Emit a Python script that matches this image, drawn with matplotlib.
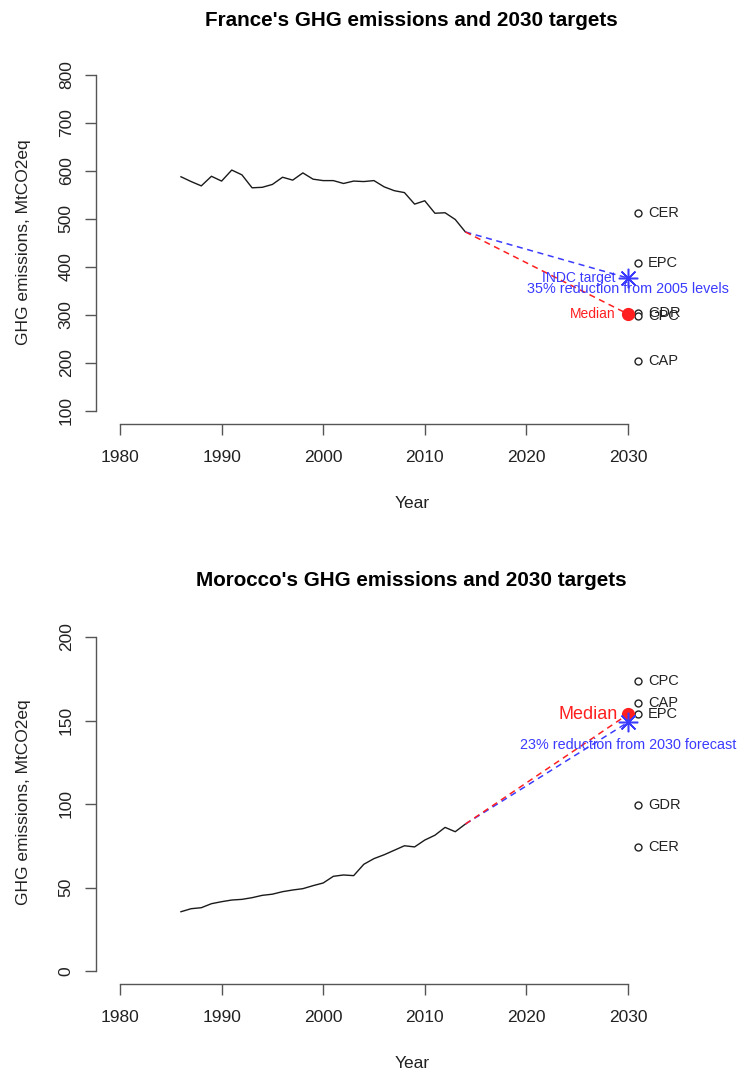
import matplotlib
matplotlib.use("Agg")
import matplotlib.pyplot as plt

plt.rcParams['font.family'] = ['Liberation Sans', 'DejaVu Sans']

years = list(range(1986, 2015))

france_emissions = [588, 578, 569, 589, 579, 602, 592, 565, 566, 572,
                    587, 581, 596, 583, 580, 580, 574, 579, 578, 580,
                    567, 559, 555, 531, 538, 512, 513, 499, 473]
morocco_emissions = [35.5, 37.3, 37.9, 40.3, 41.5, 42.5, 42.9, 43.9, 45.3, 46.0,
                     47.5, 48.5, 49.3, 51.1, 52.7, 56.7, 57.5, 57.1, 63.9, 67.3,
                     69.6, 72.3, 75.0, 74.3, 78.4, 81.3, 86.0, 83.4, 88.0]

scenario_names = ["CER", "EPC", "GDR", "CPC", "CAP"]
france_scenarios = [512, 408, 304, 298, 204]
morocco_scenarios = [74.4, 153.7, 99.6, 173.8, 160.7]

target_year = 2030
france_median = 302
france_indc = 377
morocco_median = 153.7
morocco_indc = 148.9

france_yticks = [100, 200, 300, 400, 500, 600, 700, 800]
morocco_yticks = [0, 50, 100, 150, 200]
xticks = [1980, 1990, 2000, 2010, 2020, 2030]

BLUE = '#3b3bff'
RED = '#ff1f1f'

W, H = 738, 1072
fig = plt.figure(figsize=(W / 100, H / 100), dpi=100)


def px_axes(left, top, right, bottom):
    return fig.add_axes([left / W, 1 - bottom / H, (right - left) / W, (bottom - top) / H])


def style(ax, yticks, xlim, ylim):
    ax.set_xlim(*xlim)
    ax.set_ylim(*ylim)
    for s in ('top', 'right'):
        ax.spines[s].set_visible(False)
    ax.spines['left'].set_bounds(yticks[0], yticks[-1])
    ax.spines['bottom'].set_bounds(xticks[0], xticks[-1])
    for s in ('left', 'bottom'):
        ax.spines[s].set_color('#555555')
        ax.spines[s].set_linewidth(1.0)
    ax.set_xticks(xticks)
    ax.set_yticks(yticks)
    ax.tick_params(axis='both', length=8, width=1.0, color='#555555', labelsize=12.5,
                   labelcolor='#222222')
    ax.tick_params(axis='x', pad=11)
    ax.tick_params(axis='y', pad=8)
    for lab in ax.get_yticklabels():
        lab.set_rotation(90)
        lab.set_va('center')
    ax.set_xlabel("Year", fontsize=12.5, labelpad=22, color='#222222')
    ax.set_ylabel("GHG emissions, MtCO2eq", fontsize=12.5, labelpad=20, color='#222222')


def draw(ax, emissions, scenarios, median, indc):
    ax.plot(years, emissions, color='#1a1a1a', lw=1.0)
    ax.plot([years[-1], target_year], [emissions[-1], indc], ls=(0, (4, 3)), color=BLUE, lw=1.1)
    ax.plot([years[-1], target_year], [emissions[-1], median], ls=(0, (4, 3)), color=RED, lw=1.1)
    ax.plot([target_year + 1] * len(scenarios), scenarios, ls='none', marker='o', ms=5,
            mfc='white', mec='#222222', mew=1.0, clip_on=False, zorder=3)
    for name, v in zip(scenario_names, scenarios):
        ax.annotate(name, (target_year + 1, v), xytext=(7, 0), textcoords='offset points',
                    va='center', ha='left', fontsize=10.5, color='#222222', annotation_clip=False)
    ax.plot([target_year], [median], ls='none', marker='o', ms=8.5, color=RED, zorder=4,
            clip_on=False)
    ax.plot([target_year], [indc], ls='none', marker=(8, 2, 0), ms=14, mew=1.1, color=BLUE,
            zorder=4, clip_on=False)


# France
ax1 = px_axes(96, 60, 729, 424)
ylim1 = (100 - 13 / 0.48, 800 + 15 / 0.48)
style(ax1, france_yticks, (1980 - 24 / 10.15, 2030 + 101 / 10.15), ylim1)
draw(ax1, france_emissions, france_scenarios, france_median, france_indc)
ax1.annotate("Median", (target_year, france_median), xytext=(-9, 0), textcoords='offset points',
             ha='right', va='center', fontsize=10, color=RED)
ax1.annotate("INDC target", (target_year, france_indc), xytext=(-9, 0), textcoords='offset points',
             ha='right', va='center', fontsize=10, color=BLUE)
ax1.annotate("35% reduction from 2005 levels", (target_year, france_indc), xytext=(0, -8),
             textcoords='offset points', ha='center', va='center', fontsize=10.4, color=BLUE,
             annotation_clip=False)
fig.text(411 / W, 1 - 20 / H, "France's GHG emissions and 2030 targets", ha='center',
         va='center', fontsize=14.9, fontweight='bold')

# Morocco
ax2 = px_axes(96, 620, 729, 984)
ylim2 = (0 - 13 / 1.67, 200 + 17 / 1.67)
style(ax2, morocco_yticks, (1980 - 24 / 10.15, 2030 + 101 / 10.15), ylim2)
draw(ax2, morocco_emissions, morocco_scenarios, morocco_median, morocco_indc)
ax2.annotate("Median", (target_year, morocco_median), xytext=(-7, 0), textcoords='offset points',
             ha='right', va='center', fontsize=13, color=RED)
ax2.annotate("23% reduction from 2030 forecast", (target_year, morocco_indc), xytext=(0, -16),
             textcoords='offset points', ha='center', va='center', fontsize=10.4, color=BLUE,
             annotation_clip=False)
fig.text(411 / W, 1 - 580 / H, "Morocco's GHG emissions and 2030 targets", ha='center',
         va='center', fontsize=14.9, fontweight='bold')

fig.savefig("out.png", dpi=100, facecolor='white')
